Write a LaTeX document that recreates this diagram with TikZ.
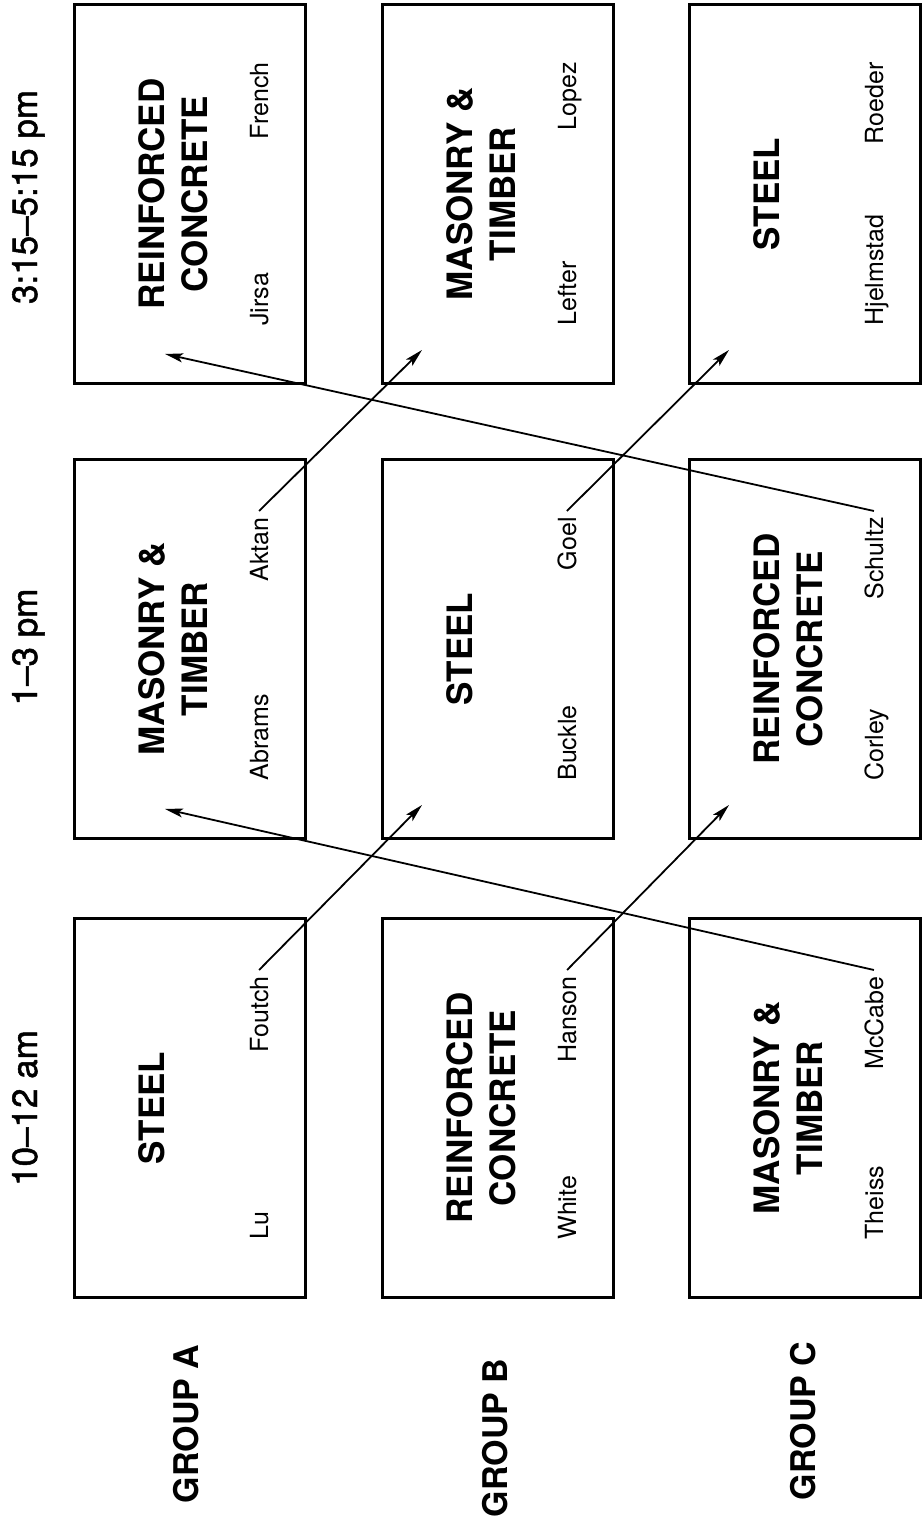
\documentclass[tikz,border=0pt]{standalone}
\usepackage{fontspec}
\setmainfont{TeX Gyre Heros}
\newfontfamily\slotfont{TeX Gyre Heros}[Ligatures=TeX, FakeBold=1.4]
\usetikzlibrary{arrows.meta}

\begin{document}
\begin{tikzpicture}[x=0.5pt, y=0.5pt,
	session/.style={draw, line width=1.4pt, minimum width=115.5pt, minimum height=189.5pt, inner sep=0pt},
	topic/.style={rotate=90, anchor=north, inner sep=0pt, align=center, font=\bfseries\fontsize{17.5}{21.5}\selectfont},
	who/.style={rotate=90, inner sep=3pt, font=\fontsize{12.5}{14}\selectfont},
	slot/.style={rotate=90, anchor=base, font=\slotfont\fontsize{17.5}{21}\selectfont},
	grp/.style={rotate=90, anchor=base, font=\bfseries\fontsize{17}{20}\selectfont},
	link/.style={line width=0.9pt, -{Stealth[length=9pt, width=4.5pt, inset=2pt]}}]
	\useasboundingbox (0,0) rectangle (921,1518);

	\node[slot] (t1) at (37,410) {10--12 am};
	\node[slot] (t2) at (37,871) {1--3 pm};
	\node[slot] (t3) at (37,1321) {3:15--5:15 pm};

	\node[grp] (ga) at (198,94) {GROUP A};
	\node[grp] (gb) at (507,80) {GROUP B};
	\node[grp] (gc) at (815,97) {GROUP C};

	\node[session] (a1) at (190,410) {};
	\node[session] (b1) at (498,410) {};
	\node[session] (c1) at (805,410) {};
	\node[session] (a2) at (190,869) {};
	\node[session] (b2) at (498,869) {};
	\node[session] (c2) at (805,869) {};
	\node[session] (a3) at (190,1324) {};
	\node[session] (b3) at (498,1324) {};
	\node[session] (c3) at (805,1324) {};

	\node[topic] (a1t) at (138,410) {STEEL};
	\node[topic] (b1t) at (446,410) {REINFORCED\\CONCRETE};
	\node[topic] (c1t) at (753,410) {MASONRY \&\\TIMBER};
	\node[topic] (a2t) at (138,869) {MASONRY \&\\TIMBER};
	\node[topic] (b2t) at (446,869) {STEEL};
	\node[topic] (c2t) at (753,869) {REINFORCED\\CONCRETE};
	\node[topic] (a3t) at (138,1324) {REINFORCED\\CONCRETE};
	\node[topic] (b3t) at (446,1324) {MASONRY \&\\TIMBER};
	\node[topic] (c3t) at (753,1324) {STEEL};

	\node[who, anchor=base west] (lu) at (268,272) {Lu};
	\node[who, anchor=base east] (foutch) at (268,548) {Foutch};
	\node[who, anchor=base west] (white) at (576,272) {White};
	\node[who, anchor=base east] (hanson) at (576,548) {Hanson};
	\node[who, anchor=base west] (theiss) at (883,272) {Theiss};
	\node[who, anchor=base east] (mccabe) at (883,548) {McCabe};
	\node[who, anchor=base west] (abrams) at (268,731) {Abrams};
	\node[who, anchor=base east] (aktan) at (268,1007) {Aktan};
	\node[who, anchor=base west] (buckle) at (576,731) {Buckle};
	\node[who, anchor=base east] (goel) at (576,1007) {Goel};
	\node[who, anchor=base west] (corley) at (883,731) {Corley};
	\node[who, anchor=base east] (schultz) at (883,1007) {Schultz};
	\node[who, anchor=base west] (jirsa) at (268,1186) {Jirsa};
	\node[who, anchor=base east] (french) at (268,1462) {French};
	\node[who, anchor=base west] (lefter) at (576,1186) {Lefter};
	\node[who, anchor=base east] (lopez) at (576,1462) {Lopez};
	\node[who, anchor=base west] (hjelmstad) at (883,1186) {Hjelmstad};
	\node[who, anchor=base east] (roeder) at (883,1462) {Roeder};

	\coordinate (in-a2) at (165,709);
	\coordinate (in-b2) at (422,713);
	\coordinate (in-c2) at (729,713);
	\coordinate (in-a3) at (165,1164);
	\coordinate (in-b3) at (422,1168);
	\coordinate (in-c3) at (729,1168);

	\draw[link] (foutch.east) -- (in-b2);
	\draw[link] (hanson.east) -- (in-c2);
	\draw[link] (mccabe.east) -- (in-a2);
	\draw[link] (aktan.east) -- (in-b3);
	\draw[link] (goel.east) -- (in-c3);
	\draw[link] (schultz.east) -- (in-a3);
\end{tikzpicture}
\end{document}
